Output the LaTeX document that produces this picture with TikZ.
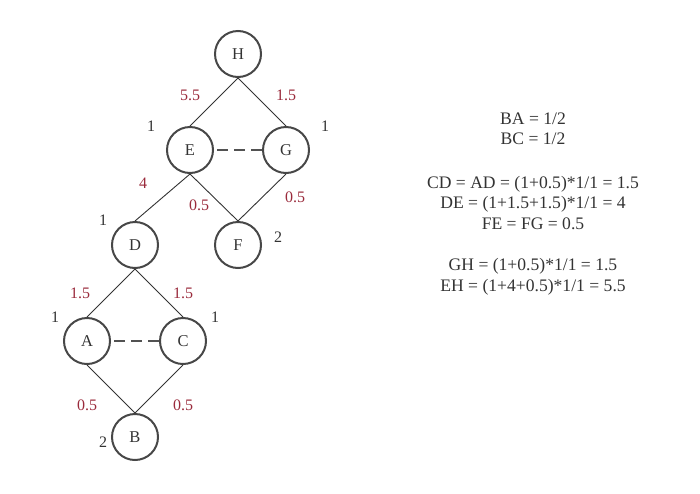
\documentclass[tikz,border=0pt]{standalone}
\usepackage{fontspec}
\setmainfont{Liberation Serif}
\definecolor{wred}{HTML}{9A2B3C}
\definecolor{ink}{HTML}{333333}
\begin{document}
\begin{tikzpicture}[x=1pt,y=-1pt,
  vert/.style={circle,draw=ink!90,line width=2pt,minimum size=46pt,inner sep=0pt,font=\fontsize{16.5}{16.5}\selectfont,text=ink},
  edge/.style={draw=ink,line width=0.9pt},
  dash edge/.style={draw=ink!85,line width=1.4pt,dash pattern=on 11pt off 6pt,dash phase=-3pt},
  wt/.style={text=wred,font=\fontsize{16}{16}\selectfont,inner sep=0pt},
  cnt/.style={text=ink,font=\fontsize{16}{16}\selectfont,inner sep=0pt},
  eq/.style={text=ink,font=\fontsize{17.6}{20.5}\selectfont,align=center,inner sep=0pt}]
\useasboundingbox (0,0) rectangle (700,493);
\node[vert] (H) at (238,54) {H};
\node[vert] (E) at (190,150) {E};
\node[vert] (G) at (286,150) {G};
\node[vert] (D) at (135,245) {D};
\node[vert] (F) at (238,245) {F};
\node[vert] (A) at (87,341) {A};
\node[vert] (C) at (183,341) {C};
\node[vert] (B) at (135,437) {B};
\draw[edge] (H.south) -- (E.north);
\draw[edge] (H.south) -- (G.north);
\draw[edge] (E.south) -- (D.north);
\draw[edge] (E.south) -- (F.north);
\draw[edge] (G.south) -- (F.north);
\draw[edge] (D.south) -- (A.north);
\draw[edge] (D.south) -- (C.north);
\draw[edge] (A.south) -- (B.north);
\draw[edge] (C.south) -- (B.north);
\draw[dash edge] (E.east) -- (G.west);
\draw[dash edge] (A.east) -- (C.west);
\node[wt] (w1) at (190,95) {5.5};
\node[wt] (w2) at (286,95) {1.5};
\node[wt] (w3) at (143,183) {4};
\node[wt] (w4) at (199,205) {0.5};
\node[wt] (w5) at (295,197) {0.5};
\node[wt] (w6) at (80,293) {1.5};
\node[wt] (w7) at (183,293) {1.5};
\node[wt] (w8) at (87,405) {0.5};
\node[wt] (w9) at (183,405) {0.5};
\node[cnt] (c1) at (151,126) {1};
\node[cnt] (c2) at (325,126) {1};
\node[cnt] (c3) at (103,220) {1};
\node[cnt] (c4) at (278,237) {2};
\node[cnt] (c5) at (55,317) {1};
\node[cnt] (c6) at (215,317) {1};
\node[cnt] (c7) at (103,442) {2};
\node[eq] (t1) at (533,129) {BA = 1/2\\BC = 1/2};
\node[eq] (t2) at (533,203) {CD = AD = (1+0.5)*1/1 = 1.5\\DE = (1+1.5+1.5)*1/1 = 4\\FE = FG = 0.5};
\node[eq] (t3) at (533,277) {GH = (1+0.5)*1/1 = 1.5\\EH = (1+4+0.5)*1/1 = 5.5};
\end{tikzpicture}
\end{document}
